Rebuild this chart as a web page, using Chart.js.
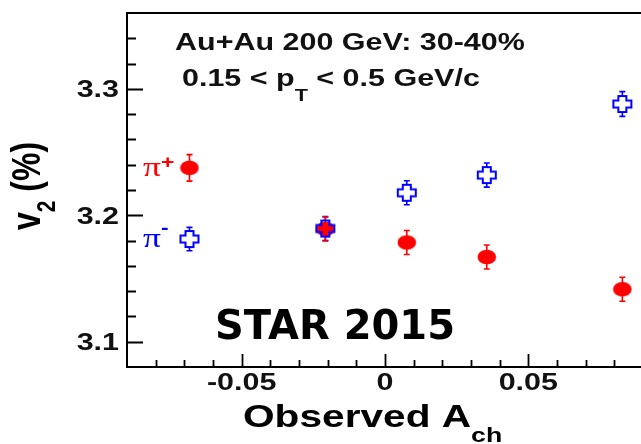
<!DOCTYPE html>
<html>
<head>
<meta charset="utf-8">
<title>v2 vs observed charge asymmetry</title>
<script src="https://cdn.jsdelivr.net/npm/chart.js@4/dist/chart.umd.min.js"></script>
<style>
  html, body { margin: 0; padding: 0; background: #fff; overflow: hidden; }
  #wrap { position: relative; width: 660px; height: 444px; }
</style>
</head>
<body>
<div id="wrap"><canvas id="chart" width="660" height="444"></canvas></div>
<script>
// Observed charge asymmetry bins (A_ch)
const achBins = [-0.0682, -0.0208, 0.0076, 0.0355, 0.0828];

// pi+ elliptic flow v2 (%) and statistical errors
const piPlusV2  = [3.2375, 3.1892, 3.1785, 3.1670, 3.1415];
const piPlusErr = [0.0105, 0.0095, 0.0095, 0.0095, 0.0095];

// pi- elliptic flow v2 (%) and statistical errors
const piMinusV2  = [3.1812, 3.1895, 3.2178, 3.2318, 3.2880];
const piMinusErr = [0.0092, 0.0095, 0.0095, 0.0095, 0.0098];

// Axis ranges and labelled ticks
const xRange = [-0.09, 0.09];
const yRange = [3.08, 3.36];
const xTickValues = [-0.05, 0, 0.05];
const xTickLabels = ['-0.05', '0', '0.05'];
const yTickValues = [3.1, 3.2, 3.3];
const yTickLabels = ['3.1', '3.2', '3.3'];
const xMinorStep = 0.01;
const yMinorStep = 0.02;

const RED = '#ff0000';
const BLUE = '#0000ff';
const SANS = "'Liberation Sans', Arial, Helvetica, sans-serif";
const SERIF = "'Liberation Serif', 'Times New Roman', serif";
const SX = 1.27; // lettering is set wide, like the rest of the figure

// ---- marker images ----
function makeDot() {
  const c = document.createElement('canvas');
  c.width = 20; c.height = 16;
  const g = c.getContext('2d');
  g.fillStyle = RED;
  g.beginPath();
  g.ellipse(10, 8, 9.3, 7.3, 0, 0, Math.PI * 2);
  g.fill();
  return c;
}
const CROSS_W = 9, CROSS_H = 8, ARM_X = 4, ARM_Y = 3.5;
function makeCross() {
  const c = document.createElement('canvas');
  c.width = 22; c.height = 20;
  const g = c.getContext('2d');
  const cx = 11, cy = 10;
  g.strokeStyle = BLUE;
  g.lineWidth = 2;
  g.beginPath();
  g.moveTo(cx - ARM_X, cy - CROSS_H);
  g.lineTo(cx + ARM_X, cy - CROSS_H);
  g.lineTo(cx + ARM_X, cy - ARM_Y);
  g.lineTo(cx + CROSS_W, cy - ARM_Y);
  g.lineTo(cx + CROSS_W, cy + ARM_Y);
  g.lineTo(cx + ARM_X, cy + ARM_Y);
  g.lineTo(cx + ARM_X, cy + CROSS_H);
  g.lineTo(cx - ARM_X, cy + CROSS_H);
  g.lineTo(cx - ARM_X, cy + ARM_Y);
  g.lineTo(cx - CROSS_W, cy + ARM_Y);
  g.lineTo(cx - CROSS_W, cy - ARM_Y);
  g.lineTo(cx - ARM_X, cy - ARM_Y);
  g.closePath();
  g.stroke();
  return c;
}

// ---- text helper: runs of text with sub/superscripts ----
function drawRuns(ctx, x, y, parts, opt) {
  opt = opt || {};
  ctx.save();
  ctx.translate(x, y);
  ctx.scale(opt.sx || 1, 1);
  if (opt.rotate) ctx.rotate(-Math.PI / 2);
  ctx.fillStyle = opt.color || '#000';
  ctx.textBaseline = 'alphabetic';
  ctx.textAlign = 'left';
  let total = 0;
  for (const p of parts) { ctx.font = p.font; total += ctx.measureText(p.text).width; }
  let cx = opt.align === 'right' ? -total : (opt.align === 'center' ? -total / 2 : 0);
  for (const p of parts) {
    ctx.font = p.font;
    ctx.fillText(p.text, cx, p.dy || 0);
    cx += ctx.measureText(p.text).width;
  }
  ctx.restore();
}

// ---- error bars (drawn under the markers) ----
const errorBars = {
  id: 'errorBars',
  beforeDatasetsDraw(chart) {
    const ctx = chart.ctx;
    const xs = chart.scales.x, ys = chart.scales.y;
    ctx.save();
    ctx.lineWidth = 1.6;
    chart.data.datasets.forEach(ds => {
      ctx.strokeStyle = ds.borderColor;
      ds.data.forEach((pt, i) => {
        const px = xs.getPixelForValue(pt.x);
        const pc = ys.getPixelForValue(pt.y);
        const pTop = ys.getPixelForValue(pt.y + ds.errors[i]);
        const pBot = ys.getPixelForValue(pt.y - ds.errors[i]);
        const gap = ds.hollow ? CROSS_H : 0;
        ctx.beginPath();
        ctx.moveTo(px, pTop); ctx.lineTo(px, pc - gap);
        ctx.moveTo(px, pc + gap); ctx.lineTo(px, pBot);
        ctx.moveTo(px - 3, pTop); ctx.lineTo(px + 3, pTop);
        ctx.moveTo(px - 3, pBot); ctx.lineTo(px + 3, pBot);
        ctx.stroke();
      });
    });
    ctx.restore();
  }
};

// ---- frame, inward ticks, tick labels, titles and annotations ----
const decorations = {
  id: 'decorations',
  afterDraw(chart) {
    const ctx = chart.ctx;
    const a = chart.chartArea;
    const xs = chart.scales.x, ys = chart.scales.y;
    ctx.save();
    ctx.strokeStyle = '#000';
    ctx.lineWidth = 2;
    ctx.strokeRect(a.left, a.top, a.right - a.left, a.bottom - a.top);

    ctx.lineWidth = 1.8;
    ctx.beginPath();
    // y ticks on the left edge, pointing into the plot
    for (let v = yRange[0] + yMinorStep; v < yRange[1] - 1e-9; v += yMinorStep) {
      const p = Math.round(ys.getPixelForValue(v)) + 0.5;
      const major = yTickValues.some(t => Math.abs(t - v) < 1e-6);
      ctx.moveTo(a.left, p);
      ctx.lineTo(a.left + (major ? 16 : 9), p);
    }
    // x ticks on the bottom edge, pointing into the plot
    for (let v = xRange[0] + xMinorStep; v < xRange[1] - 1e-9; v += xMinorStep) {
      const p = Math.round(xs.getPixelForValue(v)) + 0.5;
      const major = xTickValues.some(t => Math.abs(t - v) < 1e-6);
      ctx.moveTo(p, a.bottom);
      ctx.lineTo(p, a.bottom - (major ? 13 : 7));
    }
    ctx.stroke();
    ctx.restore();

    const tickFont = 'bold 24px ' + SANS;
    yTickValues.forEach((v, i) => {
      drawRuns(ctx, a.left - 8, ys.getPixelForValue(v) + 8.6,
        [{ text: yTickLabels[i], font: tickFont }], { sx: SX, align: 'right', color: '#111' });
    });
    xTickValues.forEach((v, i) => {
      drawRuns(ctx, xs.getPixelForValue(v), a.bottom + 23,
        [{ text: xTickLabels[i], font: tickFont }], { sx: SX, align: 'center', color: '#111' });
    });

    // axis titles
    drawRuns(ctx, 243, 427, [
      { text: 'Observed A', font: 'bold 32px ' + SANS },
      { text: 'ch', font: 'bold 21px ' + SANS, dy: 15 }
    ], { sx: SX });
    drawRuns(ctx, 40, 230, [
      { text: 'v', font: 'bold 32px ' + SANS },
      { text: '2', font: 'bold 21px ' + SANS, dy: 12 },
      { text: ' (%)', font: 'bold 32px ' + SANS }
    ], { sx: SX, rotate: true });

    // collision system and pT window
    drawRuns(ctx, 175, 50, [{ text: 'Au+Au 200 GeV: 30-40%', font: 'bold 24px ' + SANS }], { sx: SX, color: '#111' });
    drawRuns(ctx, 182, 86, [
      { text: '0.15 < p', font: 'bold 24px ' + SANS },
      { text: 'T', font: 'bold 17px ' + SANS, dy: 15 },
      { text: ' < 0.5 GeV/c', font: 'bold 24px ' + SANS }
    ], { sx: SX, color: '#111' });

    drawRuns(ctx, 215, 339, [{ text: 'STAR 2015', font: "bold 40px 'DejaVu Sans', Verdana, sans-serif" }], {});

    // species labels
    drawRuns(ctx, 143, 176, [
      { text: 'π', font: '28px ' + SERIF },
      { text: '+', font: 'bold 18px ' + SANS, dy: -8 }
    ], { sx: SX, color: RED });
    drawRuns(ctx, 143, 247, [
      { text: 'π', font: '28px ' + SERIF },
      { text: '-', font: 'bold 18px ' + SANS, dy: -13 }
    ], { sx: SX, color: BLUE });
  }
};

const toPoints = (xs, ys) => xs.map((x, i) => ({ x: x, y: ys[i] }));

new Chart(document.getElementById('chart'), {
  type: 'scatter',
  data: {
    datasets: [
      {
        label: 'π-',
        data: toPoints(achBins, piMinusV2),
        errors: piMinusErr,
        hollow: true,
        borderColor: BLUE,
        backgroundColor: BLUE,
        pointStyle: makeCross(),
        pointRadius: 9,
        order: 0
      },
      {
        label: 'π+',
        data: toPoints(achBins, piPlusV2),
        errors: piPlusErr,
        hollow: false,
        borderColor: RED,
        backgroundColor: RED,
        pointStyle: makeDot(),
        pointRadius: 9,
        order: 1
      }
    ]
  },
  options: {
    responsive: false,
    animation: false,
    events: [],
    layout: { padding: { left: 0, top: 13, right: 17, bottom: 0 } },
    plugins: { legend: { display: false }, tooltip: { enabled: false } },
    scales: {
      x: {
        type: 'linear',
        min: xRange[0], max: xRange[1],
        grid: { display: false, drawTicks: false },
        border: { display: false },
        ticks: { display: false },
        afterFit(s) { s.height = 77; s.paddingLeft = 0; s.paddingRight = 0; }
      },
      y: {
        type: 'linear',
        min: yRange[0], max: yRange[1],
        grid: { display: false, drawTicks: false },
        border: { display: false },
        ticks: { display: false },
        afterFit(s) { s.width = 127; s.paddingTop = 0; s.paddingBottom = 0; }
      }
    }
  },
  plugins: [errorBars, decorations]
});
</script>
</body>
</html>
